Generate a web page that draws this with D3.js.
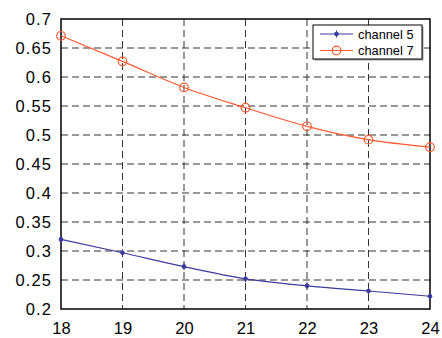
<!DOCTYPE html>
<html>
<head>
<meta charset="utf-8">
<script src="https://cdn.jsdelivr.net/npm/d3@7"></script>
<style>
  body { margin: 0; background: #fff; }
  text { font-family: "Liberation Sans", Arial, sans-serif; }
</style>
</head>
<body>
<div id="chart"></div>
<script>
const xValues = [18, 19, 20, 21, 22, 23, 24];
const channel5 = [0.320, 0.297, 0.273, 0.252, 0.240, 0.231, 0.222];
const channel7 = [0.671, 0.627, 0.582, 0.547, 0.515, 0.492, 0.479];
const yTicks = [0.2, 0.25, 0.3, 0.35, 0.4, 0.45, 0.5, 0.55, 0.6, 0.65, 0.7];
const seriesNames = ["channel 5", "channel 7"];

const margin = { top: 19, right: 12, bottom: 29, left: 61 },
  width = 442 - margin.left - margin.right,
  height = 338 - margin.top - margin.bottom;

const svg = d3
  .select("#chart")
  .append("svg")
  .attr("width", 442)
  .attr("height", 338)
  .append("g")
  .attr("transform", "translate(" + margin.left + "," + margin.top + ")");

const x = d3.scaleLinear().domain([18, 24]).range([0, width]);
const y = d3.scaleLinear().domain([0.2, 0.7]).range([height, 0]);

// Grid lines
svg.append("g")
  .selectAll("line")
  .data(xValues.slice(1, -1))
  .join("line")
  .attr("x1", d => x(d)).attr("x2", d => x(d))
  .attr("y1", 0).attr("y2", height)
  .attr("stroke", "#333").attr("stroke-dasharray", "7,4");

svg.append("g")
  .selectAll("line")
  .data(yTicks.slice(1, -1))
  .join("line")
  .attr("x1", 0).attr("x2", width)
  .attr("y1", d => y(d)).attr("y2", d => y(d))
  .attr("stroke", "#333").attr("stroke-dasharray", "7,4");

// Axes
const xAxis = svg.append("g")
  .attr("transform", "translate(0," + height + ")")
  .call(d3.axisBottom(x).tickValues(xValues).tickSize(0).tickPadding(13).tickFormat(d3.format("d")));
const yAxis = svg.append("g")
  .call(d3.axisLeft(y).tickValues(yTicks).tickSize(0).tickPadding(9).tickFormat(d => String(+d.toFixed(2))));

[xAxis, yAxis].forEach(a => {
  a.select(".domain").remove();
  a.selectAll("text").attr("font-size", 16.5).attr("fill", "#000")
    .attr("font-family", "Liberation Sans, Arial, sans-serif");
});
yAxis.selectAll("text").attr("letter-spacing", 1.1);

// Box
svg.append("rect")
  .attr("width", width).attr("height", height)
  .attr("fill", "none").attr("stroke", "#000").attr("stroke-width", 1.5);

// Lines
const line = d3.line()
  .x((d, i) => x(xValues[i]))
  .y(d => y(d))
  .curve(d3.curveMonotoneX);

svg.append("path").datum(channel5)
  .attr("d", line).attr("fill", "none").attr("stroke", "#3b3c9c").attr("stroke-width", 1.2);
svg.append("path").datum(channel7)
  .attr("d", line).attr("fill", "none").attr("stroke", "#ff5a30").attr("stroke-width", 1.2);

// Markers
function star(g, cx, cy, color) {
  g.append("circle").attr("cx", cx).attr("cy", cy).attr("r", 2.3).attr("fill", color);
  g.append("line").attr("x1", cx).attr("x2", cx).attr("y1", cy - 3.5).attr("y2", cy + 3.5)
    .attr("stroke", color).attr("stroke-width", 1);
}
function ring(g, cx, cy, color) {
  g.append("circle").attr("cx", cx).attr("cy", cy).attr("r", 4.3)
    .attr("fill", "none").attr("stroke", color).attr("stroke-width", 1.2);
}
const mk = svg.append("g");
channel5.forEach((v, i) => star(mk, x(xValues[i]), y(v), "#3b3c9c"));
channel7.forEach((v, i) => ring(mk, x(xValues[i]), y(v), "#ff5a30"));

// Legend
const lg = svg.append("g").attr("transform", "translate(" + (313 - margin.left) + "," + (25 - margin.top) + ")");
lg.append("rect").attr("x", 1.5).attr("y", 1.5).attr("width", 109).attr("height", 34).attr("fill", "#999");
lg.append("rect").attr("width", 109).attr("height", 34).attr("fill", "#fff").attr("stroke", "#000").attr("stroke-width", 1);
const colors = ["#3b3c9c", "#ff5a30"];
seriesNames.forEach((name, i) => {
  const ly = 9 + i * 16.5;
  lg.append("line").attr("x1", 7).attr("x2", 40).attr("y1", ly).attr("y2", ly)
    .attr("stroke", colors[i]).attr("stroke-width", 1.2);
  if (i === 0) star(lg, 23.5, ly, colors[i]); else ring(lg, 23.5, ly, colors[i]);
  lg.append("text").attr("x", 45).attr("y", ly).attr("dy", "0.36em")
    .attr("font-size", 12.8).text(name);
});
</script>
</body>
</html>
